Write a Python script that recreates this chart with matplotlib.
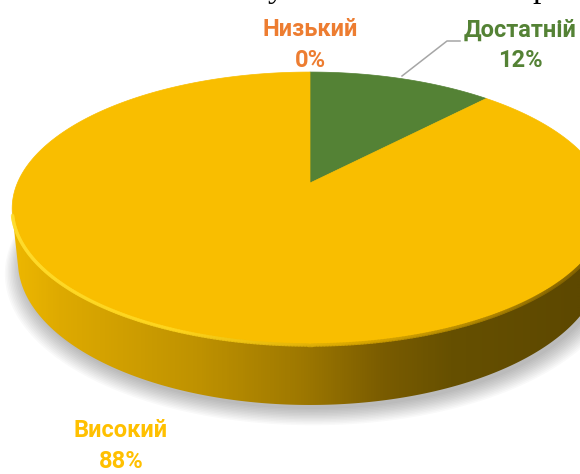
import numpy as np
import matplotlib
matplotlib.use("Agg")
import matplotlib.pyplot as plt
from matplotlib.patches import Polygon
from matplotlib.collections import LineCollection
from matplotlib.colors import LinearSegmentedColormap

# data
categories = ["Низький", "Достатній", "Високий"]
shares = [0, 12, 88]
slice_colors = ["#ED7D31", "#548235", "#F9BE00"]
label_colors = ["#ED7D31", "#548235", "#FFC000"]

# label anchors (pixels) and leader line
label_xy = [(310, 45), (520, 45), (121, 446)]
leader = [(402, 76), (447, 41), (460, 41)]

# simple perspective camera for the 3d disc
cx, cy = 310, 183
elev = np.radians(26.75)
s, c = np.sin(elev), np.cos(elev)
D = 4.778
f = 1398
h = 0.203


def project(t, z=0.0):
    X, Y = np.cos(t), np.sin(t)
    d = D + Y * c - z * s
    v = Y * s + z * c
    return np.column_stack([cx + f * X / d, cy - f * v / d])


fig = plt.figure(figsize=(5.8, 4.74), dpi=100)
ax = fig.add_axes([0, 0, 1, 1])
ax.set_xlim(0, 580)
ax.set_ylim(474, 0)
ax.axis("off")

# soft shadow under the disc
full = np.linspace(0, 2 * np.pi, 400)
base = project(full, -h)
mid = base.mean(axis=0)
for k in range(12):
    grow = 1.0 + 0.005 * k
    pts = (base - mid) * grow + mid + np.array([3, 4 + 0.7 * k])
    ax.add_patch(Polygon(pts, closed=True, fc="#000000", ec="none",
                         alpha=0.025, zorder=1))

# side wall (front part only)
tv = np.arcsin(1 / (D * c))
t_side = np.linspace(np.pi + tv, 2 * np.pi - tv, 300)
top_edge = project(t_side, 0)
bot_edge = project(t_side, -h)
side_poly = Polygon(np.vstack([top_edge, bot_edge[::-1]]), closed=True,
                    fc="none", ec="none", zorder=2)
ax.add_patch(side_poly)
side_cmap = LinearSegmentedColormap.from_list("side", [
    (0.0, "#F2BB00"), (0.10, "#DEAA00"), (0.34, "#BF9200"),
    (0.52, "#9E7800"), (0.66, "#7A5C00"), (0.78, "#665000"),
    (1.0, "#5D4800")])
grad = np.tile(np.linspace(0, 1, 580), (10, 1))
im = ax.imshow(grad, cmap=side_cmap, extent=[0, 580, 474, 0],
               aspect="auto", zorder=2, interpolation="bilinear")
im.set_clip_path(side_poly)

# top face slices, clockwise from 12 o'clock
start = np.pi / 2
cum = 0
for share, col in zip(shares, slice_colors):
    if share == 0:
        continue
    a0 = start - 2 * np.pi * cum / 100
    a1 = start - 2 * np.pi * (cum + share) / 100
    arc = project(np.linspace(a0, a1, 300), 0)
    pts = np.vstack([[cx, cy], arc])
    ax.add_patch(Polygon(pts, closed=True, fc=col, ec=col, lw=0.5, zorder=3))
    cum += share

# bevel highlight along the front rim
rim = project(t_side, 0)
segs = np.stack([rim[:-1], rim[1:]], axis=1)
rim_cmap = LinearSegmentedColormap.from_list("rim", [
    (0.0, "#FFDD30"), (0.35, "#FFD820"), (0.55, "#D8A600"),
    (0.8, "#8A6800"), (1.0, "#7A5C00")])
lc = LineCollection(segs, colors=rim_cmap(np.linspace(0, 1, len(segs))),
                    linewidths=2.5, alpha=0.7, zorder=4, capstyle="round")
ax.add_collection(lc)

# leader line for the green slice
lx, ly = zip(*leader)
ax.plot(lx, ly, color="#A6A6A6", lw=1.1, zorder=5)

# labels
for cat, share, col, (x, y) in zip(categories, shares, label_colors, label_xy):
    ax.text(x, y, f"{cat}\n{share}%", color=col, fontsize=17,
            fontweight="bold", family=["Roboto", "DejaVu Sans"],
            ha="center", va="center", linespacing=1.4, zorder=6)

# cut-off line of the caption above the chart
ax.text(276, -3, "у", family="Liberation Serif", fontsize=24,
        color="black", ha="center", va="baseline")
ax.text(541, -3, "р", family="Liberation Serif", fontsize=24,
        color="black", ha="center", va="baseline")

fig.savefig("out.png", dpi=100)
